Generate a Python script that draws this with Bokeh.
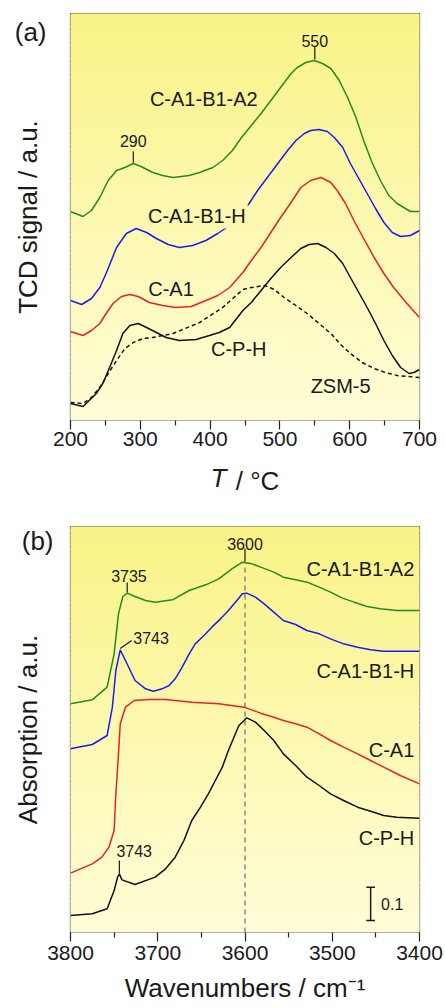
import numpy as np
from bokeh.plotting import figure
from bokeh.models import Range1d, Label, FixedTicker, LinearAxis
from bokeh.layouts import column
from bokeh.embed import file_html
from bokeh.resources import INLINE

FONT = "Liberation Sans"

# ---------------- Panel (a): NH3-TPD ----------------
A_T_GREEN = [200, 218, 230, 242, 254, 266, 278, 290, 301, 318, 332, 347, 370, 385, 404, 418, 432, 444, 459, 473,
             487, 501, 516, 525, 537, 549, 561, 573, 585, 597, 609, 620, 632, 644, 656, 668, 687, 700]
A_Y_GREEN = [2.09, 2.04, 2.10, 2.23, 2.40, 2.50, 2.53, 2.57, 2.54, 2.48, 2.45, 2.43, 2.45, 2.48, 2.53, 2.60, 2.70, 2.82, 2.95, 3.07,
             3.20, 3.33, 3.47, 3.53, 3.58, 3.60, 3.57, 3.52, 3.40, 3.23, 3.03, 2.80, 2.58, 2.40, 2.25, 2.17, 2.09, 2.09]

A_T_BLUE = [200, 216, 230, 242, 251, 266, 280, 294, 309, 323, 340, 356, 375, 394, 411, 428, 456, 468, 482, 497,
            511, 523, 535, 544, 556, 568, 578, 590, 601, 613, 625, 637, 649, 661, 673, 687, 700]
A_Y_BLUE = [1.20, 1.16, 1.22, 1.33, 1.47, 1.73, 1.87, 1.92, 1.88, 1.82, 1.76, 1.73, 1.75, 1.80, 1.87, 1.95, 2.17, 2.30, 2.43, 2.57,
            2.70, 2.80, 2.87, 2.90, 2.91, 2.89, 2.83, 2.73, 2.57, 2.42, 2.27, 2.12, 1.98, 1.88, 1.84, 1.85, 1.90]

A_T_RED = [200, 218, 230, 242, 251, 261, 273, 285, 297, 313, 332, 351, 373, 394, 411, 428, 447, 459, 473, 487,
           501, 516, 530, 544, 559, 573, 582, 594, 606, 620, 635, 649, 663, 682, 700]
A_Y_RED = [0.89, 0.85, 0.90, 0.97, 1.07, 1.17, 1.24, 1.26, 1.24, 1.18, 1.15, 1.13, 1.14, 1.20, 1.25, 1.33, 1.48, 1.60, 1.73, 1.88,
           2.03, 2.18, 2.33, 2.40, 2.43, 2.38, 2.30, 2.17, 2.00, 1.82, 1.63, 1.47, 1.33, 1.17, 1.03]

A_T_BLACK = [200, 218, 237, 247, 256, 266, 275, 285, 297, 309, 323, 337, 356, 380, 399, 413, 428, 447, 459, 473,
             487, 501, 516, 530, 542, 554, 566, 578, 590, 601, 613, 625, 637, 649, 661, 673, 685, 692, 700]
A_Y_BLACK = [0.17, 0.14, 0.27, 0.38, 0.53, 0.70, 0.87, 0.95, 0.97, 0.93, 0.88, 0.83, 0.80, 0.81, 0.85, 0.88, 0.93, 1.10, 1.18, 1.30,
             1.42, 1.53, 1.63, 1.72, 1.76, 1.77, 1.73, 1.67, 1.57, 1.43, 1.28, 1.13, 0.97, 0.80, 0.65, 0.53, 0.47, 0.48, 0.51]

A_T_ZSM = [200, 218, 230, 242, 254, 266, 278, 290, 304, 318, 347, 385, 418, 447, 459, 478, 492, 506, 523, 539,
           556, 573, 587, 601, 618, 635, 651, 668, 700]
A_Y_ZSM = [0.18, 0.17, 0.23, 0.33, 0.47, 0.60, 0.72, 0.78, 0.82, 0.83, 0.87, 0.98, 1.13, 1.31, 1.33, 1.35, 1.31, 1.23, 1.15, 1.07,
           0.97, 0.87, 0.76, 0.67, 0.58, 0.52, 0.48, 0.45, 0.43]

A_XTICKS = [200, 300, 400, 500, 600, 700]
A_XMINOR = [250, 350, 450, 550, 650]

A_SERIES_NAMES = ["C-A1-B1-A2", "C-A1-B1-H", "C-A1", "C-P-H", "ZSM-5"]
A_SERIES_LX = [391, 381, 344, 441, 587]
A_SERIES_LY = [3.22, 2.05, 1.32, 0.72, 0.35]

A_PEAK_T = [550, 290]
A_PEAK_TEXT = ["550", "290"]
A_PEAK_Y0 = [3.61, 2.58]
A_PEAK_Y1 = [3.74, 2.69]
A_PEAK_TY = [3.80, 2.80]

A_PANEL_TAG = "(a)"
A_PANEL_TAG_Y = 3.885
A_XTITLE_T = ("T", 412)          # italic symbol, centred at this temperature
A_XTITLE_UNIT = ("/ °C", 468)    # unit part

# ---------------- Panel (b): FTIR OH region ----------------
B_W_GREEN = [3800, 3775, 3758, 3750, 3745, 3740, 3735, 3726, 3714, 3703, 3683, 3664, 3645, 3630, 3615, 3603, 3592, 3582,
             3567, 3556, 3542, 3529, 3515, 3502, 3489, 3475, 3460, 3445, 3426, 3400]
B_A_GREEN = [0.686, 0.698, 0.736, 0.836, 0.956, 1.008, 1.018, 1.008, 0.996, 0.991, 0.998, 1.026, 1.043, 1.061, 1.091, 1.111, 1.106, 1.096,
             1.081, 1.066, 1.058, 1.051, 1.036, 1.021, 1.004, 0.991, 0.978, 0.971, 0.966, 0.966]

B_W_BLUE = [3800, 3775, 3758, 3752, 3748, 3743, 3737, 3726, 3714, 3705, 3695, 3687, 3680, 3672, 3664, 3657, 3647, 3638,
            3628, 3619, 3611, 3603, 3598, 3588, 3578, 3567, 3556, 3542, 3529, 3515, 3502, 3487, 3471, 3456, 3441, 3400]
B_A_BLUE = [0.551, 0.564, 0.591, 0.676, 0.786, 0.848, 0.816, 0.756, 0.731, 0.724, 0.731, 0.741, 0.761, 0.796, 0.836, 0.866, 0.891, 0.916,
            0.941, 0.966, 0.991, 1.016, 1.018, 1.006, 0.986, 0.961, 0.936, 0.924, 0.906, 0.896, 0.881, 0.866, 0.856, 0.848, 0.844, 0.844]

B_W_RED = [3800, 3775, 3764, 3756, 3750, 3748, 3745, 3743, 3737, 3727, 3710, 3691, 3661, 3630, 3601, 3582, 3567, 3556,
           3542, 3529, 3515, 3502, 3487, 3471, 3456, 3441, 3422, 3400]
B_A_RED = [0.178, 0.206, 0.226, 0.256, 0.306, 0.416, 0.536, 0.626, 0.676, 0.696, 0.699, 0.699, 0.691, 0.686, 0.676, 0.658, 0.646, 0.636,
           0.626, 0.616, 0.596, 0.576, 0.556, 0.536, 0.516, 0.496, 0.471, 0.446]

B_W_BLACK = [3800, 3775, 3758, 3750, 3746, 3744, 3741, 3726, 3703, 3691, 3680, 3670, 3661, 3651, 3642, 3634, 3626, 3619,
             3611, 3607, 3601, 3598, 3588, 3578, 3567, 3556, 3542, 3529, 3515, 3502, 3487, 3471, 3456, 3441, 3426, 3400]
B_A_BLACK = [0.051, 0.056, 0.071, 0.126, 0.166, 0.176, 0.158, 0.144, 0.166, 0.191, 0.226, 0.276, 0.336, 0.376, 0.416, 0.456, 0.496, 0.546,
             0.596, 0.621, 0.636, 0.644, 0.631, 0.606, 0.576, 0.536, 0.501, 0.466, 0.441, 0.416, 0.396, 0.376, 0.364, 0.351, 0.346, 0.343]

B_XTICKS = [3800, 3700, 3600, 3500, 3400]
B_XMINOR = [3750, 3650, 3550, 3450]

B_SERIES_NAMES = ["C-A1-B1-A2", "C-A1-B1-H", "C-A1", "C-P-H"]
B_SERIES_LX = [3406, 3406, 3406, 3406]
B_SERIES_LY = [1.092, 0.786, 0.549, 0.285]

B_PANEL_TAG = "(b)"
B_PANEL_TAG_Y = 1.176

B_REF_W = 3600          # dashed reference line
B_SCALE_W = 3456        # scale bar position
B_SCALE_Y0 = 0.036
B_SCALE_LEN = 0.1

GREEN = "#238c1e"
BLUE = "#1c1cf0"
RED = "#e8202a"
BLACK = "#111111"
TEXT = "#1a1a1a"

TOP_RGB = np.array([250, 243, 135])
BOT_RGB = np.array([255, 253, 216])


def grad_color(t):
    c = BOT_RGB + (TOP_RGB - BOT_RGB) * t
    return "#%02x%02x%02x" % tuple(int(round(v)) for v in c)


def add_gradient(p, x0, x1, y0, y1, n=90):
    edges = np.linspace(y0, y1, n + 1)
    mids = (edges[:-1] + edges[1:]) / 2
    cols = [grad_color((m - y0) / (y1 - y0)) for m in mids]
    p.quad(left=x0, right=x1, bottom=edges[:-1], top=edges[1:],
           fill_color=cols, line_color=cols, line_width=1)


def style(p, xticks, xminor, ylabel, tag, tag_y, tag_standoff, title_standoff, xlab_standoff):
    p.xgrid.visible = False
    p.ygrid.visible = False
    p.outline_line_color = "#2a2a2a"
    p.outline_line_width = 1.2
    p.background_fill_color = "white"
    p.border_fill_color = "white"
    ax = p.xaxis[0]
    ax.ticker = FixedTicker(ticks=xticks, minor_ticks=xminor)
    ax.axis_line_color = None
    ax.major_tick_out = 9
    ax.major_tick_in = 0
    ax.minor_tick_out = 5
    ax.minor_tick_in = 0
    ax.major_tick_line_color = "#222222"
    ax.minor_tick_line_color = "#222222"
    ax.major_tick_line_width = 1.2
    ax.minor_tick_line_width = 1.2
    ax.major_label_text_font = FONT
    ax.major_label_text_font_size = "21px"
    ax.major_label_text_color = TEXT
    ax.major_label_standoff = xlab_standoff
    ax.axis_label_text_font = FONT
    ax.axis_label_text_font_size = "26px"
    ax.axis_label_text_font_style = "normal"
    ax.axis_label_text_color = TEXT
    # left axis: no ticks; its single tick label is the panel tag "(a)"/"(b)"
    ay = p.yaxis[0]
    ay.ticker = FixedTicker(ticks=[tag_y])
    ay.major_label_overrides = {tag_y: tag}
    ay.axis_line_color = None
    ay.major_tick_line_color = None
    ay.minor_tick_line_color = None
    ay.major_tick_out = 0
    ay.minor_tick_out = 0
    ay.major_label_standoff = tag_standoff
    ay.major_label_text_font = FONT
    ay.major_label_text_font_size = "26px"
    ay.major_label_text_color = TEXT
    ay.axis_label = ylabel
    ay.axis_label_text_font = FONT
    ay.axis_label_text_font_size = "26px"
    ay.axis_label_text_font_style = "normal"
    ay.axis_label_text_color = TEXT
    ay.axis_label_standoff = title_standoff


def txt(p, x, y, s, size, align="center", baseline="middle", bg=None):
    lab = Label(x=x, y=y, text=s, text_font=FONT, text_font_size=size,
                text_align=align, text_baseline=baseline, text_color=TEXT)
    if bg is not None:
        lab.background_fill_color = bg
        lab.padding = 2
    p.add_layout(lab)


def label_axis(text, pos, style_, standoff):
    a = LinearAxis(ticker=FixedTicker(ticks=[pos]), major_label_overrides={pos: text})
    a.axis_line_color = None
    a.major_tick_line_color = None
    a.minor_tick_line_color = None
    a.major_tick_out = 0
    a.major_tick_in = 0
    a.minor_tick_out = 0
    a.minor_tick_in = 0
    a.major_label_standoff = standoff
    a.major_label_text_font = FONT
    a.major_label_text_font_size = "26px"
    a.major_label_text_font_style = style_
    a.major_label_text_color = TEXT
    return a


# ---------------- figure (a) ----------------
AY0, AY1 = 0.0, 4.07
p1 = figure(width=445, height=500, output_backend="svg", toolbar_location=None,
            x_range=Range1d(200, 700), y_range=Range1d(AY0, AY1),
            min_border_left=69, min_border_right=26, min_border_top=13, min_border_bottom=80)
style(p1, A_XTICKS, A_XMINOR, "TCD signal / a.u.", A_PANEL_TAG, A_PANEL_TAG_Y, 24, -31, 2)
add_gradient(p1, 200, 700, AY0, AY1)

p1.line(A_T_ZSM, A_Y_ZSM, line_color=BLACK, line_width=1.5, line_dash="4 3")
p1.line(A_T_BLACK, A_Y_BLACK, line_color=BLACK, line_width=1.5)
p1.line(A_T_RED, A_Y_RED, line_color=RED, line_width=1.5)
p1.line(A_T_BLUE, A_Y_BLUE, line_color=BLUE, line_width=1.5)
p1.line(A_T_GREEN, A_Y_GREEN, line_color=GREEN, line_width=1.5)

p1.segment(x0=A_PEAK_T, y0=A_PEAK_Y0, x1=A_PEAK_T, y1=A_PEAK_Y1, line_color=TEXT, line_width=1.2)
for x, y, s in zip(A_PEAK_T, A_PEAK_TY, A_PEAK_TEXT):
    txt(p1, x, y, s, "16px")
for name, x, y in zip(A_SERIES_NAMES, A_SERIES_LX, A_SERIES_LY):
    bg = grad_color((y - AY0) / (AY1 - AY0)) if name == "C-A1-B1-H" else None
    txt(p1, x, y, name, "20px", bg=bg)

# x-axis title "T / °C" with italic T: two tick-label-only axes on one line
p1.add_layout(label_axis(A_XTITLE_T[0], A_XTITLE_T[1], "italic", 14), "below")
p1.add_layout(label_axis(A_XTITLE_UNIT[0], A_XTITLE_UNIT[1], "normal", -30), "below")

# ---------------- figure (b) ----------------
BY0, BY1 = 0.0, 1.218
p2 = figure(width=445, height=508, output_backend="svg", toolbar_location=None,
            x_range=Range1d(3800, 3400), y_range=Range1d(BY0, BY1),
            min_border_left=70, min_border_right=26, min_border_top=26, min_border_bottom=76)
style(p2, B_XTICKS, B_XMINOR, "Absorption / a.u.", B_PANEL_TAG, B_PANEL_TAG_Y, 17, -24, 4)
p2.xaxis[0].axis_label = "Wavenumbers / cm\u207b\u00b9"
p2.xaxis[0].axis_label_standoff = 10
add_gradient(p2, 3800, 3400, BY0, BY1)

green_peak = float(np.interp(B_REF_W, B_W_GREEN[::-1], B_A_GREEN[::-1]))
p2.segment(x0=[B_REF_W], y0=[BY0], x1=[B_REF_W], y1=[green_peak - 0.012],
           line_color="#888888", line_width=1.5, line_dash="5 4")

p2.line(B_W_BLACK, B_A_BLACK, line_color=BLACK, line_width=1.5)
p2.line(B_W_RED, B_A_RED, line_color=RED, line_width=1.5)
p2.line(B_W_BLUE, B_A_BLUE, line_color=BLUE, line_width=1.5)
p2.line(B_W_GREEN, B_A_GREEN, line_color=GREEN, line_width=1.5)

# peak markers
p2.segment(x0=[3600, 3735, 3744], y0=[1.113, 1.020, 0.177],
           x1=[3600, 3735, 3744], y1=[1.152, 1.050, 0.216], line_color=TEXT, line_width=1.2)
p2.segment(x0=[3743], y0=[0.852], x1=[3730], y1=[0.876], line_color=TEXT, line_width=1.2)
txt(p2, 3600, 1.167, "3600", "16px")
txt(p2, 3733, 1.071, "3735", "16px")
txt(p2, 3728, 0.885, "3743", "16px", align="left")
txt(p2, 3727, 0.246, "3743", "16px")

for name, x, y in zip(B_SERIES_NAMES, B_SERIES_LX, B_SERIES_LY):
    txt(p2, x, y, name, "20px", align="right")

# scale bar
p2.segment(x0=[B_SCALE_W, B_SCALE_W + 5, B_SCALE_W + 5],
           y0=[B_SCALE_Y0, B_SCALE_Y0, B_SCALE_Y0 + B_SCALE_LEN],
           x1=[B_SCALE_W, B_SCALE_W - 5, B_SCALE_W - 5],
           y1=[B_SCALE_Y0 + B_SCALE_LEN, B_SCALE_Y0, B_SCALE_Y0 + B_SCALE_LEN],
           line_color=TEXT, line_width=1.5)
txt(p2, 3444, B_SCALE_Y0 + B_SCALE_LEN / 2, "0.1", "16px", align="left")

layout = column(p1, p2, spacing=0)
open("out.html", "w").write(file_html(layout, INLINE))
